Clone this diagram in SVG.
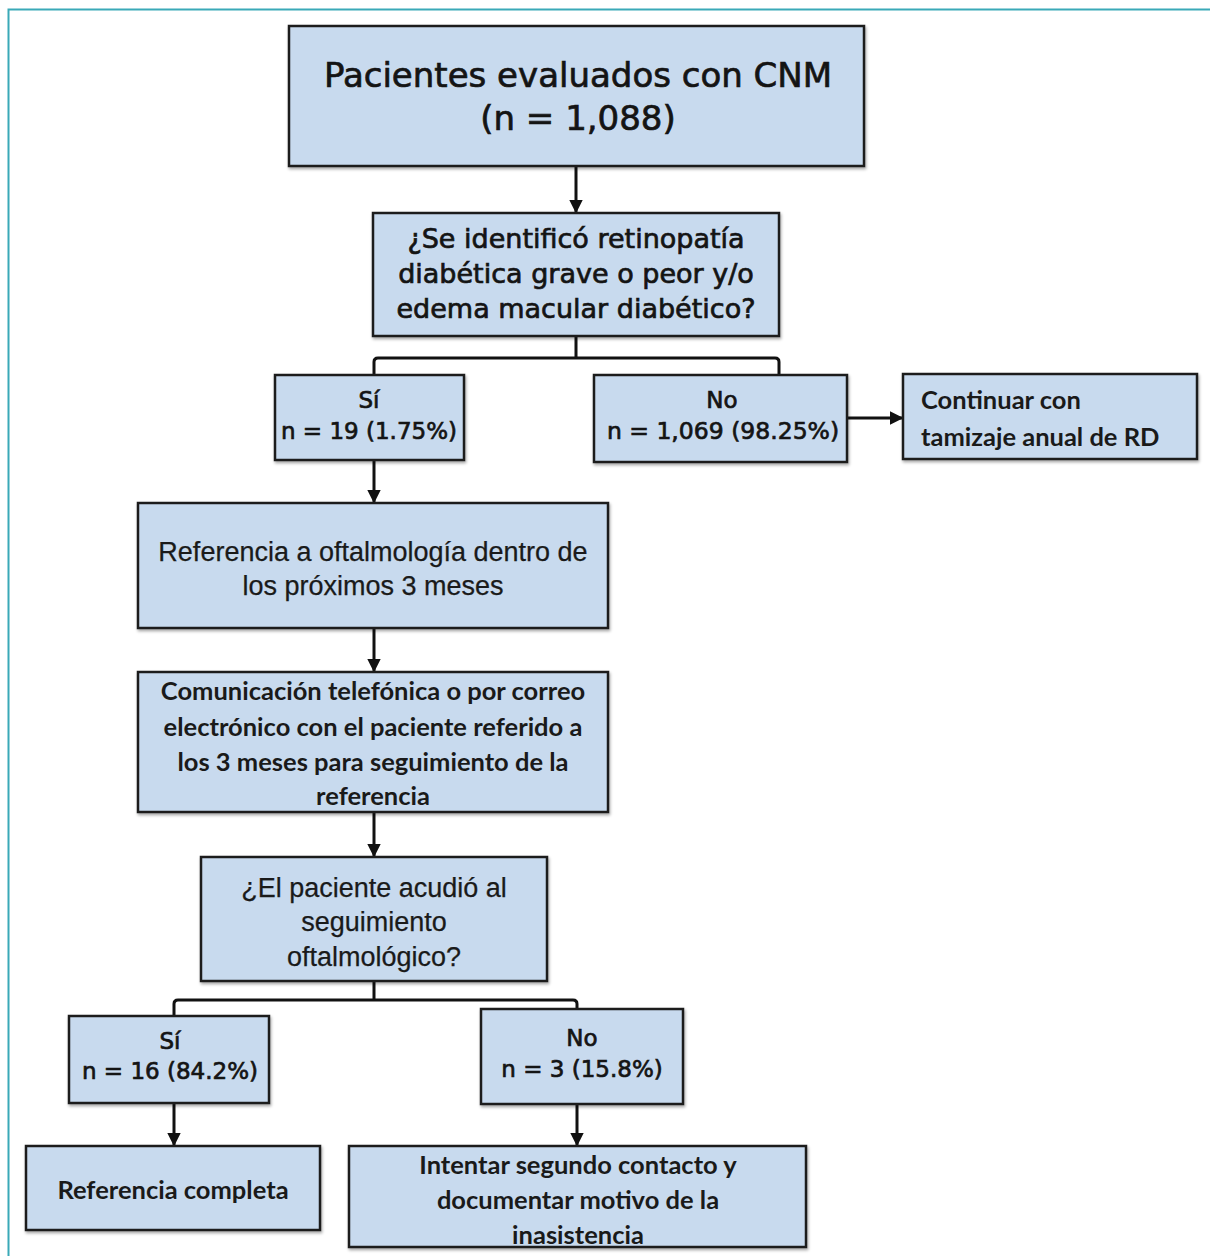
<svg xmlns="http://www.w3.org/2000/svg" width="1210" height="1256" viewBox="0 0 1210 1256">
<style>
.box{fill:#c8daee;stroke:#1e1e1e;stroke-width:2.5;filter:url(#sh)}
.t1{font-family:"DejaVu Sans",sans-serif;fill:#141414;stroke:#141414;stroke-width:0.7;text-anchor:middle}
.t2{font-family:"Liberation Sans",Arial,sans-serif;fill:#1a1a1a;stroke:#1a1a1a;stroke-width:0.25;text-anchor:middle}
.t3{font-family:Lato,"Open Sans",sans-serif;font-weight:bold;fill:#1a1a1a;text-anchor:middle;font-size:25.5px}
.ln{fill:none;stroke:#111;stroke-width:3}
</style>
<defs>
<filter id="sh" x="-5%" y="-5%" width="115%" height="120%">
<feDropShadow dx="1" dy="2" stdDeviation="1.5" flood-color="#000" flood-opacity="0.35"/>
</filter>
<marker id="ar" viewBox="0 0 10 10" refX="9" refY="5" markerWidth="4.5" markerHeight="4.5" orient="auto">
<path d="M0,0 L10,5 L0,10 z" fill="#111"/>
</marker>
</defs>
<rect width="1210" height="1256" fill="#fff"/>
<path d="M8.5,1256 V9.5 H1210" fill="none" stroke="#3aa9b8" stroke-width="2"/>

<g id="connectors">
<line class="ln" x1="576" y1="166" x2="576" y2="212" marker-end="url(#ar)"/>
<path class="ln" d="M576,336 V358 M374,375 V362 Q374,358 378,358 H775 Q779,358 779,362 V375"/>
<line class="ln" x1="847" y1="418" x2="902" y2="418" marker-end="url(#ar)"/>
<line class="ln" x1="374" y1="460" x2="374" y2="502" marker-end="url(#ar)"/>
<line class="ln" x1="374" y1="628" x2="374" y2="671" marker-end="url(#ar)"/>
<line class="ln" x1="374" y1="812" x2="374" y2="856" marker-end="url(#ar)"/>
<path class="ln" d="M374,981 V1000 M174,1016 V1004 Q174,1000 178,1000 H573 Q577,1000 577,1004 V1009"/>
<line class="ln" x1="174" y1="1103" x2="174" y2="1145" marker-end="url(#ar)"/>
<line class="ln" x1="577" y1="1104" x2="577" y2="1145" marker-end="url(#ar)"/>
</g>

<g id="n1">
<rect class="box" x="289" y="26" width="575" height="140"/>
<text class="t1" x="578" y="87" font-size="34">Pacientes evaluados con CNM</text>
<text class="t1" x="578" y="130" font-size="34">(n = 1,088)</text>
</g>

<g id="n2">
<rect class="box" x="373" y="213" width="406" height="123"/>
<text class="t1" x="576" y="248" font-size="27">¿Se identificó retinopatía</text>
<text class="t1" x="576" y="283" font-size="27">diabética grave o peor y/o</text>
<text class="t1" x="576" y="318" font-size="27">edema macular diabético?</text>
</g>

<g id="n3">
<rect class="box" x="275" y="375" width="189" height="85"/>
<text class="t1" x="369" y="408" font-size="23">Sí</text>
<text class="t1" x="369" y="439" font-size="23">n = 19 (1.75%)</text>
</g>

<g id="n4">
<rect class="box" x="594" y="375" width="253" height="87"/>
<text class="t1" x="722" y="408" font-size="23">No</text>
<text class="t1" x="723" y="439" font-size="23.5">n = 1,069 (98.25%)</text>
</g>

<g id="n5">
<rect class="box" x="903" y="374" width="294" height="85"/>
<text class="t3" x="921" y="409" style="text-anchor:start">Continuar con</text>
<text class="t3" x="921" y="446" style="text-anchor:start">tamizaje anual de RD</text>
</g>

<g id="n6">
<rect class="box" x="138" y="503" width="470" height="125"/>
<text class="t2" x="373" y="561" font-size="27">Referencia a oftalmología dentro de</text>
<text class="t2" x="373" y="595" font-size="27">los próximos 3 meses</text>
</g>

<g id="n7">
<rect class="box" x="138" y="672" width="470" height="140"/>
<text class="t3" x="373" y="700">Comunicación telefónica o por correo</text>
<text class="t3" x="373" y="736">electrónico con el paciente referido a</text>
<text class="t3" x="373" y="771">los 3 meses para seguimiento de la</text>
<text class="t3" x="373" y="805">referencia</text>
</g>

<g id="n8">
<rect class="box" x="201" y="857" width="346" height="124"/>
<text class="t2" x="374" y="897" font-size="27">¿El paciente acudió al</text>
<text class="t2" x="374" y="931" font-size="27">seguimiento</text>
<text class="t2" x="374" y="966" font-size="27">oftalmológico?</text>
</g>

<g id="n9">
<rect class="box" x="69" y="1016" width="200" height="87"/>
<text class="t1" x="170" y="1049" font-size="23">Sí</text>
<text class="t1" x="170" y="1079" font-size="23">n = 16 (84.2%)</text>
</g>

<g id="n10">
<rect class="box" x="481" y="1009" width="202" height="95"/>
<text class="t1" x="582" y="1046" font-size="23">No</text>
<text class="t1" x="582" y="1077" font-size="23">n = 3 (15.8%)</text>
</g>

<g id="n11">
<rect class="box" x="26" y="1146" width="294" height="84"/>
<text class="t3" x="173" y="1199">Referencia completa</text>
</g>

<g id="n12">
<rect class="box" x="349" y="1146" width="457" height="101"/>
<text class="t3" x="578" y="1174">Intentar segundo contacto y</text>
<text class="t3" x="578" y="1209">documentar motivo de la</text>
<text class="t3" x="578" y="1244">inasistencia</text>
</g>
</svg>
